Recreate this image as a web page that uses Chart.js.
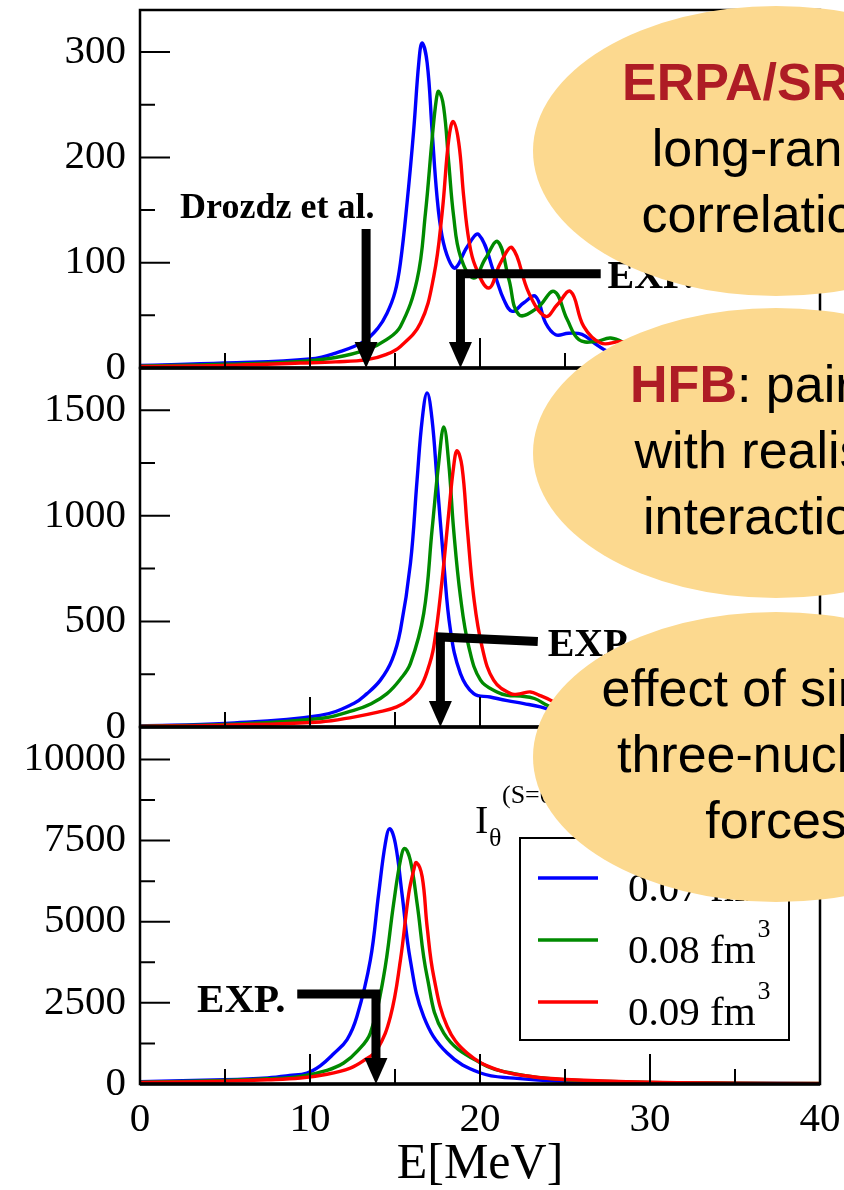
<!DOCTYPE html>
<html>
<head>
<meta charset="utf-8">
<script src="https://cdn.jsdelivr.net/npm/chart.js@4.4.0/dist/chart.umd.min.js"></script>
<style>
  html, body { margin: 0; padding: 0; background: #fff; }
  #wrap { position: relative; width: 844px; height: 1190px; overflow: hidden; }
  #wrap canvas { position: absolute; left: 0; top: 0; }
</style>
</head>
<body>
<div id="wrap">
  <canvas id="c1" width="844" height="1190"></canvas>
  <canvas id="c2" width="844" height="1190"></canvas>
  <canvas id="c3" width="844" height="1190"></canvas>
</div>
<script>
// densities of the three curves (legend) and their colours
const densities = ["0.07", "0.08", "0.09"];
const lineColors = ["#0000ff", "#008a00", "#ff0000"];

// Panel 1: ERPA/SRC
const p1E07 = [0, 5, 10, 11.8, 13.15, 14.0, 14.53, 15.0, 15.32, 15.71, 16.1, 16.4, 16.59, 16.89, 17.18, 17.47, 17.77, 18.16, 18.56, 19.24, 19.93, 20.9, 21.4, 21.9, 22.58, 23.27, 23.86, 24.45, 25.2, 26.0, 26.7, 27.5, 28.5, 30, 33, 36, 40];
const p1S07 = [2.5, 4.7, 8.5, 15.8, 25, 38, 52, 72, 100, 157, 226, 290, 308.6, 290, 226, 163, 125, 103, 95, 115, 126.6, 87, 65, 53.8, 62, 68, 42.7, 31.6, 33, 32, 24, 15.8, 10, 6, 4, 3, 2];
const p1E08 = [0, 5, 9.43, 11.5, 13.35, 14.5, 15.32, 16.3, 16.79, 17.18, 17.43, 17.57, 17.86, 18.16, 18.45, 18.85, 19.63, 20.32, 21.05, 21.7, 22.29, 23.37, 24.35, 25.13, 25.82, 26.8, 27.69, 28.7, 30, 33, 36, 40];
const p1S08 = [1.8, 3.5, 6.3, 10, 17.4, 27, 39.5, 84, 147, 217, 255, 262.7, 248, 195, 144, 106, 85.5, 104, 120, 84, 50.6, 57, 72.7, 46, 26.9, 25, 28.5, 22, 12, 6, 4, 2.5];
const p1E09 = [0, 5, 9.43, 11.5, 13.35, 14.5, 15.32, 16.5, 17.28, 17.77, 18.16, 18.42, 18.75, 19.04, 19.34, 19.73, 20.52, 21.2, 21.9, 22.88, 23.86, 24.54, 25.33, 26.1, 27.1, 28.3, 29, 30, 33, 36, 40];
const p1S09 = [1.5, 2.5, 4.7, 5.8, 7.9, 13, 20.5, 42.7, 87, 147, 217, 234, 214, 163, 122, 96.5, 76, 99.7, 114, 71, 49, 60, 72.7, 39.5, 23.7, 25, 22, 14, 7, 4, 2.5];

// Panel 2: HFB
const p2E07 = [0, 5, 10.6, 12.57, 13.35, 14.14, 14.82, 15.32, 15.91, 16.3, 16.6, 16.89, 17.18, 17.47, 17.87, 18.26, 18.85, 19.63, 20.6, 21.6, 22.58, 23.56, 25, 27, 30, 35, 40];
const p2S07 = [5, 17, 55, 111, 158, 222, 317, 459, 776, 1171, 1456, 1582, 1456, 1171, 776, 459, 253, 158, 142, 125, 111, 95, 60, 35, 20, 10, 5];
const p2E08 = [0, 5, 10.6, 12.57, 13.6, 14.53, 15.3, 15.91, 16.69, 17.18, 17.57, 17.87, 18.16, 18.45, 18.85, 19.34, 20.03, 21.0, 21.6, 22.4, 23.2, 23.95, 25, 27, 30, 35, 40];
const p2S08 = [4, 12, 40, 79, 110, 158, 225, 301, 538, 934, 1250, 1421, 1250, 934, 617, 380, 222, 166, 150, 146, 135, 103, 70, 40, 22, 10, 5];
const p2E09 = [0, 5, 10.6, 12.57, 14.0, 15.1, 15.9, 16.5, 16.9, 17.28, 17.77, 18.16, 18.45, 18.65, 18.94, 19.26, 19.63, 20.12, 20.8, 21.8, 22.4, 22.97, 23.5, 24.15, 25, 27, 30, 35, 40];
const p2S09 = [3, 9, 24, 47, 70, 95, 135, 190, 265, 380, 696, 1013, 1234, 1308, 1234, 934, 617, 380, 222, 158, 158, 166, 150, 127, 90, 50, 25, 12, 6];

// Panel 3: three-nucleon forces
const p3E07 = [0, 5, 7.5, 8.8, 9.82, 10.6, 11.39, 12.18, 12.76, 13.55, 14.04, 14.43, 14.69, 15.02, 15.41, 15.9, 16.69, 18.07, 20.03, 22, 25, 30, 35, 40];
const p3S07 = [70, 132, 190, 260, 338, 560, 930, 1370, 2078, 3821, 5871, 7409, 7870, 7409, 5871, 3821, 2078, 953, 338, 180, 80, 35, 20, 12];
const p3E08 = [0, 5, 7.5, 9.43, 11.0, 11.98, 12.8, 13.55, 14.33, 14.92, 15.32, 15.57, 15.9, 16.3, 16.89, 17.87, 20.03, 22, 25, 30, 35, 40];
const p3S08 = [55, 110, 160, 234, 420, 646, 1020, 1568, 3308, 5564, 6895, 7255, 6895, 5564, 3308, 1568, 646, 320, 130, 50, 25, 14];
const p3E09 = [0, 5, 7.5, 9.43, 11.0, 12.37, 13.15, 13.94, 14.73, 15.32, 15.81, 16.1, 16.26, 16.6, 16.89, 17.28, 18.07, 19.24, 21.0, 23, 25, 30, 35, 40];
const p3S09 = [45, 90, 130, 184, 300, 492, 720, 1054, 2078, 3821, 5871, 6588, 6824, 6382, 4845, 3308, 1771, 953, 440, 230, 140, 55, 28, 15];

// axis ranges and tick values (every tick drawn, labels only on majors)
const xTicks = [0, 5, 10, 15, 20, 25, 30, 35, 40];
const xMajor = 10;
const yMax = [340, 1700, 11000];
const yTicks = [
    [0, 50, 100, 150, 200, 250, 300],
    [0, 250, 500, 750, 1000, 1250, 1500],
    [0, 1250, 2500, 3750, 5000, 6250, 7500, 8750, 10000]
];
const yMajor = [100, 500, 2500];

const SERIF = "'Liberation Serif', 'Times New Roman', serif";
const SANS = "'Liberation Sans', Arial, sans-serif";
const ORANGE = "#fcd98f";
const DARKRED = "#ae1c25";

function toPoints(es, vs) {
    return es.map((e, i) => ({ x: e, y: vs[i] }));
}

// inward ticks + frame box
const framePlugin = {
    id: "frame",
    afterDraw(chart) {
        const { ctx, chartArea: a, scales: { x, y } } = chart;
        const major = chart.options.plugins.frame.major;
        ctx.save();
        ctx.strokeStyle = "#000";
        ctx.lineWidth = 2;
        ctx.beginPath();
        for (const v of xTicks) {
            if (v === 0 || v === 40) continue;
            const px = x.getPixelForValue(v);
            ctx.moveTo(px, a.bottom);
            ctx.lineTo(px, a.bottom - (v % xMajor === 0 ? 30 : 15));
        }
        for (const t of y.ticks) {
            if (t.value === 0) continue;
            const py = y.getPixelForValue(t.value);
            ctx.moveTo(a.left, py);
            ctx.lineTo(a.left + (t.value % major === 0 ? 30 : 15), py);
        }
        ctx.stroke();
        ctx.lineWidth = 2.5;
        ctx.strokeRect(a.left, a.top, a.right - a.left, a.bottom - a.top);
        ctx.lineWidth = 3.5;
        ctx.beginPath();
        ctx.moveTo(a.left, a.bottom);
        ctx.lineTo(a.right, a.bottom);
        ctx.stroke();
        ctx.restore();
    }
};

// thick black arrows, positions in data units
function arrowDown(chart, e, vTop) {
    const { ctx, scales: { x, y } } = chart;
    const px = x.getPixelForValue(e);
    const tip = y.getPixelForValue(0);
    ctx.beginPath();
    ctx.moveTo(px, y.getPixelForValue(vTop));
    ctx.lineTo(px, tip - 22);
    ctx.stroke();
    arrowHead(ctx, px, tip);
}

function elbowArrow(chart, eEnd, vEnd, eCorner, vCorner) {
    const { ctx, scales: { x, y } } = chart;
    const px = x.getPixelForValue(eCorner);
    const tip = y.getPixelForValue(0);
    ctx.beginPath();
    ctx.moveTo(x.getPixelForValue(eEnd), y.getPixelForValue(vEnd));
    ctx.lineTo(px, y.getPixelForValue(vCorner));
    ctx.lineTo(px, tip - 22);
    ctx.stroke();
    arrowHead(ctx, px, tip);
}

function arrowHead(ctx, px, tip) {
    ctx.beginPath();
    ctx.moveTo(px - 11.5, tip - 26);
    ctx.lineTo(px + 11.5, tip - 26);
    ctx.lineTo(px, tip);
    ctx.closePath();
    ctx.fill();
}

function label(chart, text, e, v, font) {
    const { ctx, scales: { x, y } } = chart;
    ctx.font = font;
    ctx.textAlign = "left";
    ctx.textBaseline = "alphabetic";
    ctx.fillText(text, x.getPixelForValue(e), y.getPixelForValue(v));
}

function arrowStyle(ctx) {
    ctx.strokeStyle = "#000";
    ctx.fillStyle = "#000";
    ctx.lineWidth = 9;
    ctx.lineJoin = "miter";
    ctx.lineCap = "butt";
}

const deco1 = {
    id: "deco1",
    afterDraw(chart) {
        const ctx = chart.ctx;
        ctx.save();
        arrowStyle(ctx);
        arrowDown(chart, 13.3, 132);
        elbowArrow(chart, 27.1, 89.6, 18.85, 89.6);
        label(chart, "Drozdz et al.", 2.36, 142.7, "bold 36px " + SERIF);
        label(chart, "EXP.", 27.5, 76, "bold 40px " + SERIF);
        ctx.restore();
    }
};

const deco2 = {
    id: "deco2",
    afterDraw(chart) {
        const ctx = chart.ctx;
        ctx.save();
        arrowStyle(ctx);
        elbowArrow(chart, 23.4, 405, 17.67, 426);
        label(chart, "EXP", 23.98, 335, "bold 40px " + SERIF);
        ctx.restore();
    }
};

// orange bubbles with text lines; drawn on the top canvas
const bubbles = [
    { cy: 151, lines: [[["ERPA/SRC", true, DARKRED]], [["long-range", false, "#000"]], [["correlations", false, "#000"]]], first: 622 },
    { cy: 453, lines: [[["HFB", true, DARKRED], [": pairing", false, "#000"]], [["with realistic", false, "#000"]], [["interactions", false, "#000"]]] },
    { cy: 757, lines: [[["effect of simple", false, "#000"]], [["three-nucleon", false, "#000"]], [["forces", false, "#000"]]] }
];

function drawBubbles(ctx) {
    const cx = 776, rx = 243, ry = 145;
    for (const b of bubbles) {
        ctx.fillStyle = ORANGE;
        ctx.beginPath();
        ctx.ellipse(cx, b.cy, rx, ry, 0, 0, Math.PI * 2);
        ctx.fill();
        ctx.textBaseline = "alphabetic";
        ctx.textAlign = "left";
        b.lines.forEach((parts, li) => {
            const base = b.cy - 51 + li * 66;
            let w = 0;
            for (const [t, bold] of parts) {
                ctx.font = (bold ? "bold " : "") + "52px " + SANS;
                w += ctx.measureText(t).width;
            }
            let px = (li === 0 && b.first) ? b.first : cx - w / 2;
            for (const [t, bold, col] of parts) {
                ctx.font = (bold ? "bold " : "") + "52px " + SANS;
                ctx.fillStyle = col;
                ctx.fillText(t, px, base);
                px += ctx.measureText(t).width;
            }
        });
    }
}

const deco3 = {
    id: "deco3",
    afterDraw(chart) {
        const ctx = chart.ctx;
        ctx.save();
        arrowStyle(ctx);
        elbowArrow(chart, 9.25, 2775, 13.88, 2775);
        label(chart, "EXP.", 3.36, 2232, "bold 41px " + SERIF);

        // I_theta^(S=0) label
        ctx.fillStyle = "#000";
        ctx.font = "40px " + SERIF;
        ctx.fillText("I", 475, 833);
        ctx.font = "26px " + SERIF;
        ctx.fillText("\u03b8", 489, 846);
        ctx.fillText("(S=0)", 502, 803);

        // legend box
        ctx.lineWidth = 2;
        ctx.strokeRect(520, 838, 269, 202);
        const ds = chart.data.datasets;
        ds.forEach((d, i) => {
            const ly = 878 + i * 62;
            ctx.strokeStyle = d.borderColor;
            ctx.lineWidth = 3.5;
            ctx.beginPath();
            ctx.moveTo(538, ly);
            ctx.lineTo(598, ly);
            ctx.stroke();
            ctx.fillStyle = "#000";
            ctx.font = "41px " + SERIF;
            ctx.fillText(d.label + " fm", 628, ly + 23);
            const w = ctx.measureText(d.label + " fm").width;
            ctx.font = "26px " + SERIF;
            ctx.fillText("3", 628 + w + 2, ly - 3);
        });

        drawBubbles(ctx);
        ctx.restore();
    }
};

function makePanel(id, idx, series, padTop, padBottom, xHeight, showX, deco) {
    return new Chart(document.getElementById(id), {
        type: "line",
        data: {
            datasets: series.map((s, i) => ({
                label: densities[i],
                data: toPoints(s[0], s[1]),
                borderColor: lineColors[i],
                borderWidth: 3.4,
                pointRadius: 0,
                fill: false,
                tension: 0.4,
                order: 2 - i
            }))
        },
        options: {
            responsive: false,
            animation: false,
            events: [],
            layout: { padding: { left: 0, right: 24, top: padTop, bottom: padBottom } },
            plugins: {
                legend: { display: false },
                tooltip: { enabled: false },
                frame: { major: yMajor[idx] }
            },
            scales: {
                x: {
                    type: "linear",
                    min: 0,
                    max: 40,
                    grid: { display: false, drawTicks: false },
                    border: { display: false },
                    afterBuildTicks: s => { s.ticks = xTicks.map(v => ({ value: v })); },
                    ticks: {
                        display: showX,
                        autoSkip: false,
                        maxRotation: 0,
                        padding: 12,
                        color: "#000",
                        font: { family: SERIF, size: 41 },
                        callback: v => (v % xMajor === 0 ? String(v) : "")
                    },
                    title: {
                        display: showX,
                        text: "E[MeV]",
                        color: "#000",
                        font: { family: SERIF, size: 50, lineHeight: 1 },
                        padding: { top: 0, bottom: 0 }
                    },
                    afterFit: s => {
                        s.height = xHeight;
                        s.paddingLeft = 0;
                        s.paddingRight = 0;
                    }
                },
                y: {
                    type: "linear",
                    min: 0,
                    max: yMax[idx],
                    grid: { display: false, drawTicks: false },
                    border: { display: false },
                    afterBuildTicks: s => { s.ticks = yTicks[idx].map(v => ({ value: v })); },
                    ticks: {
                        autoSkip: false,
                        padding: 14,
                        color: "#000",
                        font: { family: SERIF, size: 41 },
                        callback: v => (v % yMajor[idx] === 0 ? String(v) : "")
                    },
                    afterFit: s => {
                        s.width = 140;
                        s.paddingTop = 0;
                        s.paddingBottom = 0;
                    }
                }
            }
        },
        plugins: [framePlugin, deco]
    });
}

makePanel("c1", 0, [[p1E07, p1S07], [p1E08, p1S08], [p1E09, p1S09]], 10, 822, 0, false, deco1);
makePanel("c2", 1, [[p2E07, p2S07], [p2E08, p2S08], [p2E09, p2S09]], 368, 463, 0, false, deco2);
makePanel("c3", 2, [[p3E07, p3S07], [p3E08, p3S08], [p3E09, p3S09]], 727, 0, 106, true, deco3);
</script>
</body>
</html>
